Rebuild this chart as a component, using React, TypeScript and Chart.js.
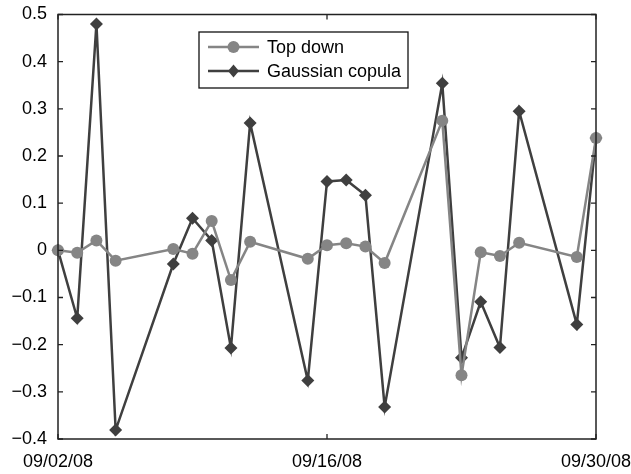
import React, { useEffect, useRef } from "react";
import { Chart, registerables } from "chart.js";

Chart.register(...registerables);

const dates = [
  "09/02/08", "09/03/08", "09/04/08", "09/05/08", "09/08/08", "09/09/08", "09/10/08",
  "09/11/08", "09/12/08", "09/15/08", "09/16/08", "09/17/08", "09/18/08", "09/19/08",
  "09/22/08", "09/23/08", "09/24/08", "09/25/08", "09/26/08", "09/29/08", "09/30/08",
];
const topDown = [
  0.0, -0.005, 0.021, -0.022, 0.003, -0.007, 0.062,
  -0.063, 0.018, -0.018, 0.011, 0.015, 0.008, -0.027,
  0.275, -0.265, -0.004, -0.012, 0.016, -0.014, 0.238,
];
const gaussianCopula = [
  0.0, -0.144, 0.48, -0.381, -0.029, 0.068, 0.021,
  -0.207, 0.27, -0.276, 0.146, 0.149, 0.117, -0.332,
  0.354, -0.228, -0.109, -0.206, 0.295, -0.157, 0.238,
];
const xTickLabels = ["09/02/08", "09/16/08", "09/30/08"];
const seriesNames = ["Top down", "Gaussian copula"];

const dayOf = (s: string) => {
  const [m, d, y] = s.split("/").map(Number);
  return Math.round(Date.UTC(2000 + y, m - 1, d) / 86400000);
};
const day0 = dayOf(dates[0]);
const xs = dates.map((d) => dayOf(d) - day0);
const xTickValues = xTickLabels.map((d) => dayOf(d) - day0);

const FONT = "'Liberation Sans', Arial, Helvetica, sans-serif";
const GRAY = "#858585";
const DARK = "#3f3f3f";

const framePlugin = {
  id: "frame",
  afterDatasetsDraw(chart: any) {
    const { ctx, chartArea: a, scales } = chart;
    ctx.save();
    ctx.strokeStyle = "#222";
    ctx.lineWidth = 1.5;
    ctx.strokeRect(a.left, a.top, a.right - a.left, a.bottom - a.top);
    ctx.lineWidth = 1.3;
    const tl = 5;
    ctx.beginPath();
    scales.y.ticks.forEach((t: any) => {
      const y = scales.y.getPixelForValue(t.value);
      ctx.moveTo(a.left, y);
      ctx.lineTo(a.left + tl, y);
      ctx.moveTo(a.right, y);
      ctx.lineTo(a.right - tl, y);
    });
    scales.x.ticks.forEach((t: any) => {
      const x = scales.x.getPixelForValue(t.value);
      ctx.moveTo(x, a.bottom);
      ctx.lineTo(x, a.bottom - tl);
      ctx.moveTo(x, a.top);
      ctx.lineTo(x, a.top + tl);
    });
    ctx.stroke();

    // legend
    const bx = 199, by = 32, bw = 209, bh = 56;
    ctx.fillStyle = "#fff";
    ctx.fillRect(bx, by, bw, bh);
    ctx.strokeStyle = "#111";
    ctx.lineWidth = 1.3;
    ctx.strokeRect(bx, by, bw, bh);
    const rows = [
      { y: by + 15, color: GRAY, shape: "circle" },
      { y: by + 39, color: DARK, shape: "diamond" },
    ];
    rows.forEach((r, i) => {
      ctx.strokeStyle = r.color;
      ctx.lineWidth = 2.5;
      ctx.beginPath();
      ctx.moveTo(bx + 9, r.y);
      ctx.lineTo(bx + 60, r.y);
      ctx.stroke();
      ctx.fillStyle = r.color;
      const cx = bx + 34.5;
      ctx.beginPath();
      if (r.shape === "circle") {
        ctx.arc(cx, r.y, 6, 0, Math.PI * 2);
      } else {
        ctx.moveTo(cx, r.y - 6.5);
        ctx.lineTo(cx + 5.5, r.y);
        ctx.lineTo(cx, r.y + 6.5);
        ctx.lineTo(cx - 5.5, r.y);
        ctx.closePath();
      }
      ctx.fill();
      ctx.fillStyle = "#000";
      ctx.font = `18px ${FONT}`;
      ctx.textAlign = "left";
      ctx.textBaseline = "middle";
      ctx.fillText(seriesNames[i], bx + 68, r.y + 1);
    });
    ctx.restore();
  },
};

export default function App() {
  const ref = useRef<HTMLCanvasElement | null>(null);
  useEffect(() => {
    document.body.style.margin = "0";
    const canvas = ref.current!;
    const chart = new Chart(canvas, {
      type: "line",
      data: {
        datasets: [
          {
            label: seriesNames[1],
            data: xs.map((x, i) => ({ x, y: gaussianCopula[i] })),
            borderColor: DARK,
            backgroundColor: DARK,
            borderWidth: 2.5,
            pointStyle: "rectRot",
            pointRadius: 6.5,
            pointBorderWidth: 0,
            pointBackgroundColor: DARK,
            tension: 0,
            clip: false,
            order: 2,
          },
          {
            label: seriesNames[0],
            data: xs.map((x, i) => ({ x, y: topDown[i] })),
            borderColor: GRAY,
            backgroundColor: GRAY,
            borderWidth: 2.5,
            pointStyle: "circle",
            pointRadius: 6,
            pointBorderWidth: 0,
            pointBackgroundColor: GRAY,
            tension: 0,
            clip: false,
            order: 1,
          },
        ],
      },
      options: {
        animation: false,
        responsive: false,
        devicePixelRatio: 1,
        layout: { padding: { top: 14.5, right: 35, left: 0, bottom: 0 } },
        plugins: { legend: { display: false }, tooltip: { enabled: false } },
        scales: {
          x: {
            type: "linear",
            min: 0,
            max: xTickValues[xTickValues.length - 1],
            afterBuildTicks: (s: any) => {
              s.ticks = xTickValues.map((v) => ({ value: v }));
            },
            afterFit: (s: any) => {
              s.height = 35;
              s.paddingLeft = 0;
              s.paddingRight = 0;
            },
            grid: { display: false, drawTicks: false },
            border: { display: false },
            ticks: {
              maxRotation: 0,
              autoSkip: false,
              padding: 12,
              color: "#000",
              font: { family: FONT, size: 18 },
              callback: (v: any) => {
                const idx = xTickValues.indexOf(Number(v));
                return idx >= 0 ? xTickLabels[idx] : "";
              },
            },
          },
          y: {
            min: -0.4,
            max: 0.5,
            afterFit: (s: any) => {
              s.width = 58;
              s.paddingTop = 0;
              s.paddingBottom = 0;
            },
            grid: { display: false, drawTicks: false },
            border: { display: false },
            ticks: {
              stepSize: 0.1,
              padding: 11,
              color: "#000",
              font: { family: FONT, size: 18 },
              callback: (v: any) => {
                const n = Math.round(Number(v) * 10) / 10;
                if (n === 0) return "0";
                return (n < 0 ? "\u2212" : "") + Math.abs(n).toFixed(1);
              },
            },
          },
        },
      },
      plugins: [framePlugin],
    });
    return () => chart.destroy();
  }, []);
  return (
    <div style={{ position: "relative", width: 631, height: 474, background: "#fff" }}>
      <canvas ref={ref} width={631} height={474} style={{ display: "block" }} />
    </div>
  );
}
